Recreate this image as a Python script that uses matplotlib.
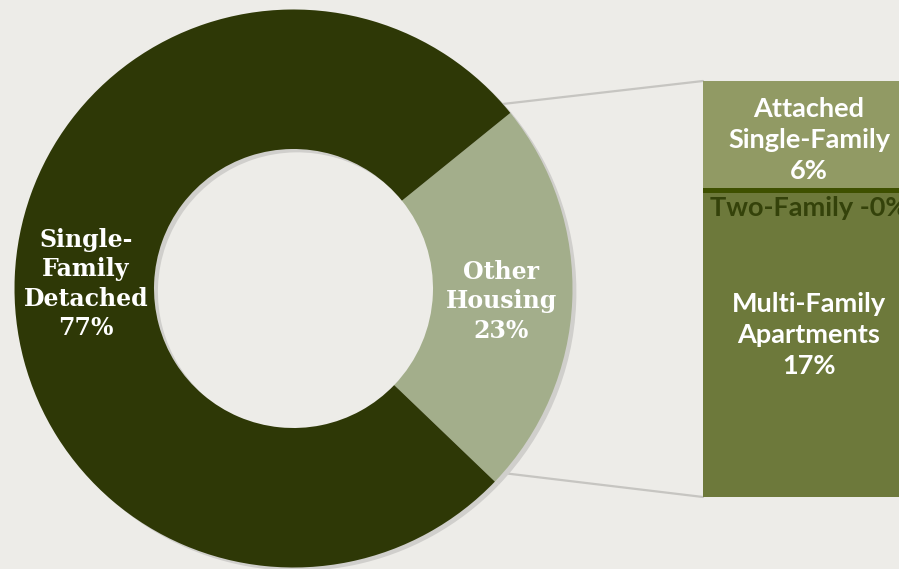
import numpy as np
import matplotlib.pyplot as plt
from matplotlib.patches import ConnectionPatch

# donut: share of housing units
donut_labels = ['Other\nHousing\n23%', 'Single-\nFamily\nDetached\n77%']
donut_values = [23, 77]
donut_colors = ['#a3ae8b', '#2e3806']

# breakdown of "other housing", listed top to bottom
bar_labels = ['Attached\nSingle-Family\n6%', 'Two-Family -0%', 'Multi-Family\nApartments\n17%']
bar_values = [6, 0.3, 17]
bar_colors = ['#919a64', '#3e5000', '#6d793b']
bar_text_colors = ['white', '#34420a', 'white']

bg = '#edece8'
shadow = '#d0cfcc'
start = -43.8

fig = plt.figure(figsize=(8.99, 5.69), dpi=100, facecolor=bg)

# donut axes, sized in pixels of the 899x569 canvas
ax = fig.add_axes([(293.5 - 279) / 899, (280.5 - 279) / 569, 558 / 899, 558 / 569])
ax.pie(donut_values, colors=[shadow, shadow], startangle=start, center=(0.014, -0.012),
       wedgeprops=dict(width=0.5, linewidth=0))
wedges, _ = ax.pie(donut_values, colors=donut_colors, startangle=start,
                   wedgeprops=dict(width=0.5, linewidth=0))
ax.set_xlim(-1, 1)
ax.set_ylim(-1, 1)
ax.set_aspect('equal')
ax.axis('off')

for w, lab in zip(wedges, donut_labels):
    mid = np.deg2rad((w.theta1 + w.theta2) / 2)
    ax.text(0.745 * np.cos(mid), 0.745 * np.sin(mid) - 0.015, lab, ha='center', va='center',
            color='white', fontsize=17, fontweight='bold', family='DejaVu Serif',
            linespacing=1.27)

# stacked bar on the right
bax = fig.add_axes([703 / 899, 72 / 569, 212 / 899, 416 / 569])
total = sum(bar_values)
bottoms = total - np.cumsum(bar_values)
bax.bar(0, bar_values, bottom=bottoms, width=1, align='edge', color=bar_colors, linewidth=0)
bax.set_xlim(0, 1)
bax.set_ylim(0, total)
bax.axis('off')

txt = dict(ha='center', fontsize=19.5, fontweight='bold', family='Lato', linespacing=1.35)
bax.text(0.5, bottoms[0] + bar_values[0] * 0.45, bar_labels[0], va='center', color=bar_text_colors[0], **txt)
bax.annotate(bar_labels[1], (0.5, bottoms[1]), xytext=(0, -2), textcoords='offset points',
             va='top', color=bar_text_colors[1], **txt)
bax.text(0.5, bottoms[2] + bar_values[2] * 0.535, bar_labels[2], va='center', color=bar_text_colors[2], **txt)

# connector lines from the donut slice to the bar
half = np.deg2rad(donut_values[0] * 180 / 100)
for sgn, yb in [(1, total), (-1, 0)]:
    con = ConnectionPatch(xyA=(np.cos(half), sgn * np.sin(half)), coordsA=ax.transData,
                          xyB=(0, yb), coordsB=bax.transData, color='#c6c5c1', lw=1.6, zorder=-1)
    fig.add_artist(con)

fig.savefig('out.png', dpi=100, facecolor=bg)
